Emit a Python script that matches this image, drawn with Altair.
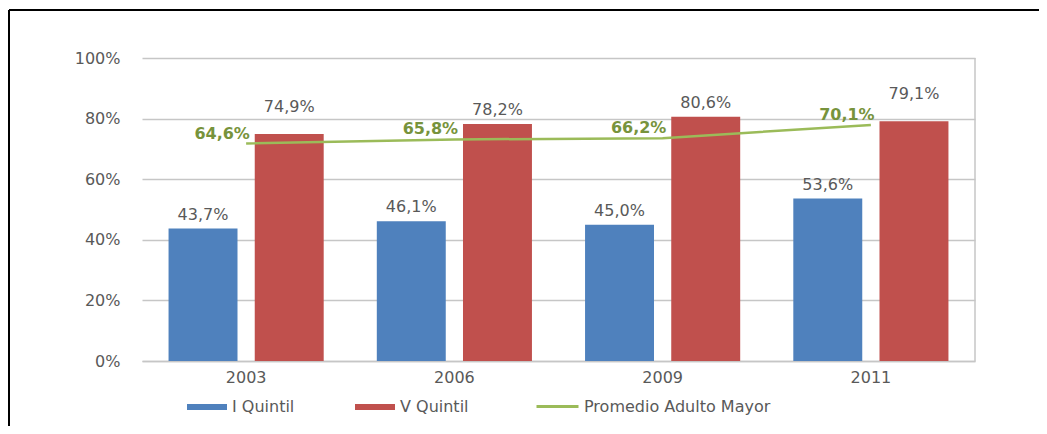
import altair as alt
import pandas as pd

years = ["2003", "2006", "2009", "2011"]
series = ["I Quintil", "V Quintil"]
q1_values = [0.437, 0.461, 0.450, 0.536]
q5_values = [0.749, 0.782, 0.806, 0.791]
line_name = "Promedio Adulto Mayor"
promedio = [0.646, 0.658, 0.662, 0.701]
raised_labels = [("2003", "V Quintil"), ("2011", "V Quintil")]

BLUE, RED, GREEN, GREEN_TXT = "#4F81BD", "#C0504D", "#9BBB59", "#77933C"
GRAY_TXT, GRID = "#595959", "#C6C6C6"
FONT = "DejaVu Sans"
W, H = 833, 303

rows = []
for i, y in enumerate(years):
    rows.append({"year": y, "serie": series[0], "value": q1_values[i]})
    rows.append({"year": y, "serie": series[1], "value": q5_values[i]})
bars_df = pd.DataFrame(rows)
bars_df["raised"] = [(r.year, r.serie) in raised_labels for r in bars_df.itertuples()]
line_df = pd.DataFrame({"year": years, "prom": promedio, "serie": line_name})
one = pd.DataFrame({"a": [0]})

x_enc = alt.X("year:N", sort=years, title=None,
              scale=alt.Scale(paddingInner=0.255, paddingOuter=0.1275),
              axis=alt.Axis(labelAngle=0, ticks=False, domainColor=GRID, domainWidth=1.5,
                            labelPadding=8, grid=False))
xoff = alt.XOffset("serie:N", sort=series, scale=alt.Scale(paddingInner=0.2, paddingOuter=0))
y_enc = alt.Y("value:Q", title=None,
              scale=alt.Scale(domain=[0, 1], nice=False),
              axis=alt.Axis(values=[0, 0.2, 0.4, 0.6, 0.8, 1.0], format=".0%", ticks=False,
                            domain=False, labelPadding=22, gridColor=GRID, gridWidth=1.5))

base = alt.Chart(bars_df)
bars = base.mark_bar().encode(
    x=x_enc, xOffset=xoff, y=y_enc,
    fill=alt.Fill("serie:N", sort=series,
                  scale=alt.Scale(domain=series, range=[BLUE, RED]),
                  legend=alt.Legend(title=None, orient="none", legendX=45, legendY=329,
                                    direction="horizontal",
                                    symbolType="M-1,-0.15L1,-0.15L1,0.15L-1,0.15Z",
                                    symbolSize=1600, symbolStrokeWidth=0,
                                    labelOffset=5, columnPadding=60, labelLimit=400,
                                    labelFont=FONT, labelFontSize=16, labelColor=GRAY_TXT)),
)
lab_calc = "replace(format(datum.value*100, '.1f'), '.', ',') + '%'"
labels_normal = base.transform_filter("!datum.raised").transform_calculate(lab=lab_calc).mark_text(
    dy=-14, baseline="middle", font=FONT, fontSize=16, color=GRAY_TXT
).encode(x=alt.X("year:N", sort=years), xOffset=alt.XOffset("serie:N", sort=series),
         y=alt.Y("value:Q"), text="lab:N")
labels_raised = base.transform_filter("datum.raised").transform_calculate(lab=lab_calc).mark_text(
    dy=-27, baseline="middle", font=FONT, fontSize=16, color=GRAY_TXT
).encode(x=alt.X("year:N", sort=years), xOffset=alt.XOffset("serie:N", sort=series),
         y=alt.Y("value:Q"), text="lab:N")

right_border = alt.Chart(one).mark_rule(color=GRID, strokeWidth=1.5).encode(
    x=alt.value(W), y=alt.value(0), y2=alt.value(H))
frame_top = alt.Chart(one).mark_rule(color="#000000", strokeWidth=2).encode(
    x=alt.value(-133), x2=alt.value(905), y=alt.value(-48))
frame_left = alt.Chart(one).mark_rule(color="#000000", strokeWidth=2).encode(
    x=alt.value(-133), y=alt.value(-48), y2=alt.value(376))

bar_layer = alt.layer(bars, labels_normal, labels_raised, right_border, frame_top, frame_left)

lbase = alt.Chart(line_df)
y_line = alt.Y("prom:Q", scale=alt.Scale(domain=[0, 0.9], nice=False), axis=None, title=None)
line = lbase.mark_line(strokeWidth=2.5).encode(
    x=alt.X("year:N", sort=years), y=y_line,
    stroke=alt.Stroke("serie:N", scale=alt.Scale(domain=[line_name], range=[GREEN]),
                      legend=alt.Legend(title=None, orient="none", legendX=393, legendY=326,
                                        direction="horizontal",
                                        symbolType="M-1,0L1,0", symbolSize=1764,
                                        symbolStrokeWidth=3, labelOffset=4, labelLimit=400,
                                        labelFont=FONT, labelFontSize=16, labelColor=GRAY_TXT)),
)
line_labels = lbase.transform_calculate(
    lab="replace(format(datum.prom*100, '.1f'), '.', ',') + '%'"
).mark_text(dx=-24, dy=-10, baseline="middle", font=FONT, fontSize=16, fontWeight="bold",
            color=GREEN_TXT).encode(x=alt.X("year:N", sort=years), y=y_line, text="lab:N")
line_layer = alt.layer(line, line_labels)

chart = alt.layer(bar_layer, line_layer).resolve_scale(y="independent").properties(
    width=W, height=H,
    autosize=alt.AutoSizeParams(type="none"),
    padding={"left": 134, "top": 50, "right": 64, "bottom": 65},
    background="#FFFFFF",
).configure_view(stroke=None).configure_axis(
    labelFont=FONT, labelFontSize=16, labelColor=GRAY_TXT
)

chart.save("out.html", embed_options={"renderer": "svg", "actions": False})
